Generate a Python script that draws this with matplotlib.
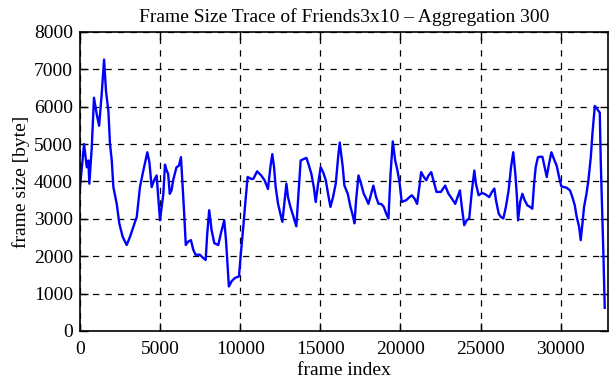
import matplotlib
matplotlib.use("Agg")
import matplotlib.pyplot as plt

plt.rcParams["font.family"] = ["Liberation Serif", "DejaVu Serif"]

# vertices of the trace (frame index, frame size in byte)
frames = [0, 250, 420, 520, 580, 730, 870, 1040, 1190, 1350, 1500, 1620, 1770, 1870,
          1980, 2080, 2290, 2450, 2660, 2910, 3120, 3330, 3540, 3740, 3950, 4200, 4330,
          4470, 4620, 4780, 4990, 5200, 5300, 5400, 5500, 5600, 5710, 5810, 6020, 6170,
          6300, 6500, 6600, 6750, 6920, 7070, 7210, 7480, 7690, 7840, 7940, 8060, 8210,
          8380, 8630, 8790, 9000, 9110, 9210, 9290, 9460, 9670, 9920, 10040, 10190, 10330,
          10460, 10670, 10820, 11050, 11310, 11520, 11730, 11880, 12000, 12110, 12210,
          12360, 12500, 12630, 12770, 12880, 12980, 13130, 13290, 13500, 13650, 13770,
          13960, 14130, 14290, 14440, 14590, 14710, 14860, 15020, 15170, 15340, 15480,
          15630, 15790, 15960, 16110, 16210, 16310, 16400, 16500, 16710, 16880, 17020,
          17130, 17230, 17380, 17540, 17710, 17860, 18000, 18170, 18310, 18480, 18630,
          18790, 18960, 19110, 19250, 19380, 19520, 19670, 19790, 19940, 20080, 20360,
          20560, 20710, 20880, 21040, 21190, 21290, 21460, 21610, 21750, 21920, 22110,
          22250, 22520, 22790, 23000, 23210, 23420, 23560, 23710, 23830, 23980, 24130,
          24290, 24460, 24610, 24710, 24880, 25090, 25230, 25380, 25540, 25710, 25860,
          25960, 26130, 26270, 26420, 26580, 26750, 26900, 27040, 27170, 27270, 27340,
          27470, 27610, 27750, 27920, 28090, 28230, 28340, 28440, 28580, 28750, 28860,
          29000, 29130, 29270, 29420, 29580, 29750, 29900, 30040, 30210, 30380, 30580,
          30730, 30880, 31000, 31150, 31250, 31360, 31460, 31610, 31730, 31880, 31980,
          32130, 32290, 32440, 32500, 32610, 32670, 32750]
sizes = [3850, 5000, 4380, 4560, 3940, 4900, 6240, 5800, 5490, 6330, 7260, 6420, 5880, 5000,
         4560, 3850, 3400, 2880, 2520, 2300, 2520, 2790, 3050, 3850, 4290, 4780, 4510,
         3850, 4030, 4160, 2960, 3670, 4450, 4300, 4200, 3670, 3760, 4030, 4380, 4420,
         4650, 3140, 2300, 2390, 2430, 2170, 2040, 2040, 1950, 1900, 2610, 3230, 2700,
         2350, 2300, 2610, 2960, 2430, 1730, 1190, 1330, 1420, 1460, 2080, 2790, 3500,
         4120, 4070, 4070, 4270, 4160, 4030, 3800, 4380, 4730, 4380, 3850,
         3400, 3140, 2920, 3500, 3940, 3580, 3320, 3100, 2800, 3760, 4560,
         4600, 4630, 4420, 4200, 3850, 3450, 3940, 4380, 4250, 4030, 3670,
         3320, 3580, 3940, 4650, 5040, 4700, 4380, 3890, 3670, 3320, 3100,
         2880, 3500, 4160, 3940, 3670, 3540, 3400, 3670, 3890, 3580, 3400,
         3400, 3320, 3140, 3010, 4200, 5070, 4560, 4340, 3980, 3450, 3500,
         3580, 3630, 3540, 3400, 3890, 4250, 4120, 4030, 4160, 4250, 3940,
         3720, 3720, 3890, 3670, 3540, 3400, 3580, 3760, 3320, 2830, 2960,
         3010, 3760, 4290, 3940, 3630, 3690, 3670, 3630, 3580, 3720, 3810,
         3500, 3140, 3050, 3010, 3320, 3760, 4380, 4780, 4200, 3580, 2960,
         3450, 3670, 3500, 3360, 3320, 3270, 3940, 4380, 4650, 4660, 4660,
         4380, 4120, 4470, 4780, 4600, 4420, 4120, 3870, 3850, 3830, 3760,
         3580, 3360, 3050, 2790, 2430, 2880, 3320, 3670, 4030, 4650, 5270,
         6020, 5930, 5840, 4560, 2960, 1990, 620]

xticks = [0, 5000, 10000, 15000, 20000, 25000, 30000]
yticks = [0, 1000, 2000, 3000, 4000, 5000, 6000, 7000, 8000]

fig = plt.figure(figsize=(6.11, 3.80), dpi=100)
ax = fig.add_axes([0.131, 0.129, 0.864, 0.787])

ax.plot(frames, sizes, color="#0000ff", lw=1.7)

ax.set_xlim(0, 32950)
ax.set_ylim(0, 8000)
ax.set_xticks(xticks)
ax.set_yticks(yticks)
ax.grid(True, color="black", ls=(0, (5, 5)), lw=0.9)
ax.tick_params(direction="in", top=True, right=True, length=6, width=1, labelsize=14)
ax.tick_params(axis="x", pad=7)
ax.tick_params(axis="y", pad=5)
for s in ax.spines.values():
    s.set_linewidth(1.2)

ax.set_xlabel("frame index", fontsize=14, labelpad=3)
ax.set_ylabel("frame size [byte]", fontsize=14, labelpad=3)
ax.set_title("Frame Size Trace of Friends3x10 \u2013 Aggregation 300", fontsize=14, pad=7)

fig.savefig("out.png", dpi=100)
